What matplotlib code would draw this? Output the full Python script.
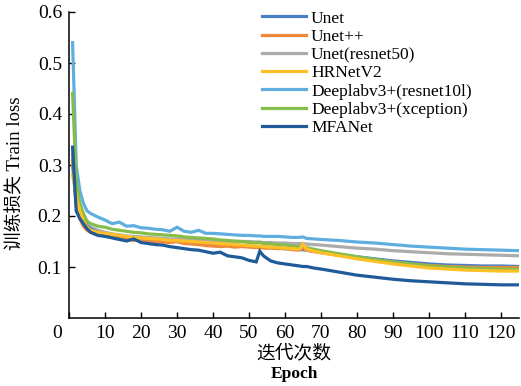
import matplotlib
matplotlib.use("Agg")
import matplotlib.pyplot as plt
from matplotlib.transforms import ScaledTranslation

epochs = [1, 2, 3, 4, 5, 6, 8, 10, 12, 14, 16, 18, 20, 22, 24, 26, 28, 30, 32, 34, 36, 38, 40,
          42, 44, 46, 48, 50, 52, 53, 54, 56, 58, 60, 62, 64, 65, 66, 68, 70,
          75, 80, 85, 90, 95, 100, 105, 110, 115, 120, 125]

unet = [0.30, 0.23, 0.205, 0.19, 0.18, 0.175, 0.168, 0.165, 0.162, 0.160, 0.158, 0.156, 0.155, 0.154, 0.152, 0.151, 0.150, 0.150, 0.149, 0.148, 0.147, 0.146, 0.145,
        0.145, 0.144, 0.143, 0.142, 0.141, 0.140, 0.140, 0.139, 0.138, 0.137, 0.136, 0.135, 0.134, 0.134, 0.133, 0.131, 0.129,
        0.125, 0.120, 0.116, 0.112, 0.109, 0.106, 0.104, 0.103, 0.102, 0.102, 0.101]
unetpp = [0.31, 0.22, 0.195, 0.18, 0.172, 0.168, 0.163, 0.162, 0.159, 0.156, 0.155, 0.152, 0.154, 0.151, 0.150, 0.149, 0.148, 0.150, 0.146, 0.145, 0.144, 0.142, 0.141,
          0.140, 0.141, 0.139, 0.140, 0.139, 0.138, 0.138, 0.137, 0.137, 0.136, 0.136, 0.134, 0.133, 0.138, 0.133, 0.130, 0.128,
          0.123, 0.118, 0.114, 0.110, 0.106, 0.103, 0.101, 0.100, 0.099, 0.099, 0.099]
unet_r50 = [0.32, 0.25, 0.21, 0.195, 0.185, 0.178, 0.172, 0.168, 0.165, 0.163, 0.161, 0.160, 0.159, 0.158, 0.157, 0.156, 0.155, 0.155, 0.154, 0.153, 0.153, 0.152, 0.151,
            0.151, 0.150, 0.150, 0.150, 0.150, 0.149, 0.149, 0.148, 0.148, 0.147, 0.147, 0.146, 0.146, 0.146, 0.145, 0.144, 0.143,
            0.140, 0.137, 0.135, 0.132, 0.130, 0.128, 0.126, 0.125, 0.124, 0.123, 0.122]
hrnet = [0.28, 0.24, 0.21, 0.19, 0.178, 0.172, 0.168, 0.166, 0.164, 0.162, 0.160, 0.158, 0.157, 0.156, 0.155, 0.154, 0.152, 0.152, 0.151, 0.150, 0.149, 0.148, 0.147,
         0.146, 0.145, 0.144, 0.143, 0.142, 0.141, 0.141, 0.140, 0.139, 0.138, 0.137, 0.136, 0.135, 0.145, 0.135, 0.131, 0.128,
         0.122, 0.116, 0.111, 0.106, 0.102, 0.098, 0.096, 0.094, 0.093, 0.092, 0.092]
dl_r101 = [0.54, 0.30, 0.25, 0.225, 0.21, 0.205, 0.198, 0.192, 0.185, 0.188, 0.180, 0.181, 0.177, 0.176, 0.174, 0.173, 0.170, 0.178, 0.170, 0.168, 0.172, 0.166, 0.166,
           0.165, 0.164, 0.163, 0.162, 0.162, 0.161, 0.161, 0.160, 0.160, 0.160, 0.159, 0.158, 0.158, 0.159, 0.156, 0.155, 0.154,
           0.152, 0.149, 0.147, 0.144, 0.141, 0.139, 0.137, 0.135, 0.134, 0.133, 0.132]
dl_xcp = [0.44, 0.27, 0.225, 0.205, 0.19, 0.185, 0.180, 0.178, 0.174, 0.172, 0.170, 0.168, 0.167, 0.165, 0.164, 0.163, 0.162, 0.161, 0.159, 0.158, 0.157, 0.156, 0.155,
          0.153, 0.152, 0.151, 0.150, 0.148, 0.147, 0.148, 0.146, 0.145, 0.144, 0.143, 0.141, 0.140, 0.141, 0.138, 0.135, 0.132,
          0.126, 0.120, 0.115, 0.110, 0.106, 0.102, 0.100, 0.098, 0.097, 0.096, 0.096]
mfanet = [0.335, 0.21, 0.195, 0.185, 0.175, 0.168, 0.162, 0.160, 0.157, 0.154, 0.151, 0.155, 0.148, 0.146, 0.144, 0.143, 0.140, 0.138, 0.136, 0.134, 0.133, 0.130, 0.127,
          0.129, 0.122, 0.120, 0.118, 0.113, 0.110, 0.131, 0.122, 0.112, 0.108, 0.106, 0.104, 0.102, 0.101, 0.101, 0.098, 0.096,
          0.090, 0.084, 0.080, 0.076, 0.073, 0.071, 0.069, 0.067, 0.066, 0.065, 0.065]

names = ["Unet", "Unet++", "Unet(resnet50)", "HRNetV2", "Deeplabv3+(resnet10l)", "Deeplabv3+(xception)", "MFANet"]
series = [unet, unetpp, unet_r50, hrnet, dl_r101, dl_xcp, mfanet]
colors = ["#4A80C8", "#F0883A", "#ABABAB", "#FDC026", "#5EAEE0", "#86BC4A", "#1F5A99"]

xticks = [0, 10, 20, 30, 40, 50, 60, 70, 80, 90, 100, 110, 120]
yticks = [0.1, 0.2, 0.3, 0.4, 0.5, 0.6]
ytick_labels = ["0.1", "0.2", "0.3", "0.4", "0.5", "0.6"]

serif = ["Liberation Serif", "Noto Sans CJK SC"]
plt.rcParams['font.family'] = serif

fig = plt.figure(figsize=(5.21, 3.86), dpi=100)
ax = fig.add_axes([69 / 521, 1 - 318 / 386, 450 / 521, 306 / 386])

order = [4, 2, 0, 1, 5, 3, 6]
lines = {}
for i in order:
    ln, = ax.plot(epochs, series[i], color=colors[i], lw=2.3, label=names[i], solid_joinstyle='miter')
    lines[i] = ln

ax.set_xlim(0, 125)
ax.set_ylim(0, 0.6)
ax.set_xticks(xticks)
ax.set_xticklabels([str(t) for t in xticks])
ax.set_yticks(yticks)
ax.set_yticklabels(ytick_labels)
for s in ["top", "right"]:
    ax.spines[s].set_visible(False)
for s in ["left", "bottom"]:
    ax.spines[s].set_linewidth(1.1)
ax.tick_params(direction="in", length=4, width=1, labelsize=14, pad=5)

lbl0 = ax.get_xticklabels()[0]
lbl0.set_transform(lbl0.get_transform() + ScaledTranslation(-0.12, 0, fig.dpi_scale_trans))

ax.legend([lines[i] for i in range(7)], names, loc="upper left", bbox_to_anchor=(252 / 521, 1.0),
          bbox_transform=fig.transFigure, frameon=False, fontsize=12.5, handlelength=2.5,
          handletextpad=0.3, labelspacing=0.12, borderaxespad=0.2)

fig.text(16 / 521, 1 - 173 / 386, "训练损失 Train loss", rotation=90, ha="center", va="center",
         fontsize=13.5, family=serif)
fig.text(294 / 521, 1 - 354 / 386, "迭代次数", ha="center", va="center", fontsize=13.5, family=serif)
fig.text(294 / 521, 1 - 374 / 386, "Epoch", ha="center", va="center", fontsize=12.5, family=serif,
         fontweight="bold")

fig.savefig("out.png", dpi=100)
